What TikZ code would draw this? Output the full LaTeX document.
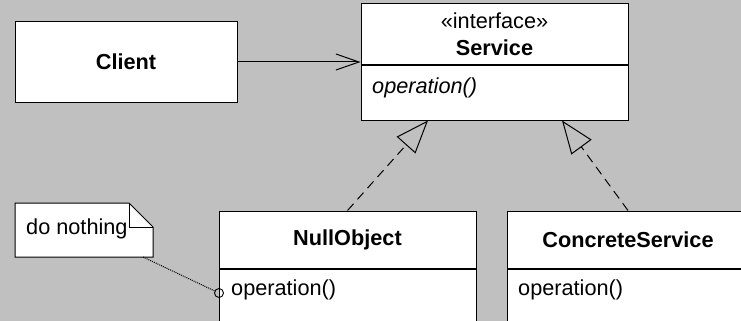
\documentclass[tikz,border=0pt]{standalone}
\usepackage{fontspec}
\setmainfont{Liberation Sans}
\usetikzlibrary{arrows.meta,calc}
\definecolor{paper}{RGB}{192,192,192}
\tikzset{
	every node/.style={font=\fontsize{21.7}{27}\selectfont},
	classhead/.style={draw, fill=white, line width=1pt, inner sep=0pt, font=\fontsize{21.7}{27}\selectfont\bfseries},
	classbody/.style={draw, fill=white, line width=1pt, inner sep=0pt},
	optext/.style={anchor=west, inner sep=0pt},
	assoc/.style={line width=1pt, -{Straight Barb[length=23pt, width=16pt, line width=1pt]}},
	realize/.style={line width=1pt, dash pattern=on 9pt off 6pt, -{Triangle[open, length=33pt, width=25pt, line width=1pt, fill=paper]}},
	noteline/.style={line width=1pt, densely dotted}
}

\begin{document}
\begin{tikzpicture}[x=1pt, y=-1pt]
			%%%%% START %%%%%
			
			\clip (0, 0) rectangle (741, 321);
			\fill[paper] (0, 0) rectangle (741, 321);
			
			\node[classhead, minimum width=222pt, minimum height=80pt] (client) at (126, 62) {Client};
			
			\node[classhead, minimum width=267pt, minimum height=61pt, align=center] (service) at (494.5, 34.5) {\mdseries«interface»\\Service};
			\node[classbody, minimum width=267pt, minimum height=54pt, anchor=north] (serviceops) at (service.south) {};
			\node[optext] (serviceop) at (372, 88) {\itshape operation()};
			
			\node[classhead, minimum width=257pt, minimum height=57pt] (nullobj) at (347.5, 239.5) {NullObject};
			\node[classbody, minimum width=257pt, minimum height=52pt, anchor=north] (nullops) at (nullobj.south) {};
			\node[optext] (nullop) at (231, 290) {operation()};
			
			\node[classhead, minimum width=242pt, minimum height=57pt] (concrete) at (628, 239.5) {ConcreteService};
			\node[classbody, minimum width=242pt, minimum height=52pt, anchor=north] (concreteops) at (concrete.south) {};
			\node[optext] (concreteop) at (518, 290) {operation()};
			
			\draw[assoc] (client.east) -- (service.west |- client.east);
			
			\draw[realize] (nullobj.north) -- ($(serviceops.south)+(-66.5, 0)$);
			\draw[realize] (concrete.north) -- ($(serviceops.south)+(67.5, 0)$);
			
			\draw[fill=white, line width=1pt] (15, 203) -- (129, 203) -- (153, 227) -- (153, 257) -- (15, 257) -- cycle;
			\draw[line width=1pt] (129, 203) -- (129, 227) -- (153, 227);
			\node[optext] (note) at (26, 229) {do nothing};
			\coordinate (notefoot) at (143, 257);
			
			\node[circle, draw, line width=0.9pt, inner sep=0pt, minimum size=9pt] (nullanchor) at (219, 293) {};
			\draw[noteline] (notefoot) -- (nullanchor);
			
			%%%%% END %%%%%
\end{tikzpicture}
\end{document}
